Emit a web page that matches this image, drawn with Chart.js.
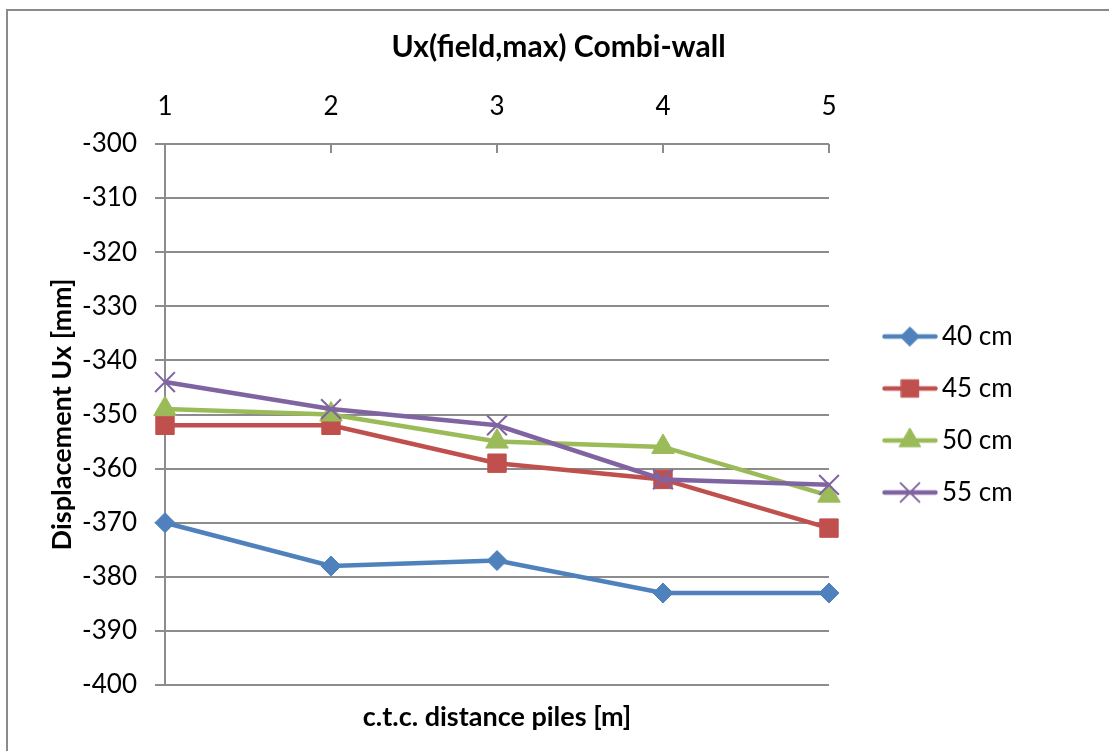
<!DOCTYPE html>
<html>
<head>
<meta charset="utf-8">
<style>
  html, body { margin: 0; padding: 0; background: #ffffff; }
  #wrap { width: 1109px; height: 751px; }
</style>
<script src="https://cdn.jsdelivr.net/npm/chart.js@4/dist/chart.umd.min.js"></script>
</head>
<body>
<div id="wrap"><canvas id="chart" width="1109" height="751"></canvas></div>
<script>
// c.t.c. distance of the piles [m]
const distances = ['1', '2', '3', '4', '5'];

// Maximum horizontal field displacement Ux [mm] per wall thickness
const ux40 = [-370, -378, -377, -383, -383];
const ux45 = [-352, -352, -359, -362, -371];
const ux50 = [-349, -350, -355, -356, -365];
const ux55 = [-344, -349, -352, -362, -363];

const seriesNames = ['40 cm', '45 cm', '50 cm', '55 cm'];
const seriesData = [ux40, ux45, ux50, ux55];

// Value axis range
const yMin = -400;
const yMax = -300;
const yStep = 10;

const FONT = 'Lato, "Open Sans", "DejaVu Sans", sans-serif';
const GRID = '#8c8c8c';

const styles = [
  { color: '#4F81BD', point: 'rectRot',  radius: 10, border: 1 },
  { color: '#C0504D', point: 'rect',     radius: 13, border: 1 },
  { color: '#9BBB59', point: 'triangle', radius: 13, border: 1 },
  { color: '#8064A2', point: 'crossRot', radius: 14, border: 2 }
];

// Small legend swatch: line segment with the series marker in its middle
function legendIcon(st) {
  const c = document.createElement('canvas');
  c.width = 92; c.height = 26;
  const g = c.getContext('2d');
  g.strokeStyle = st.color;
  g.fillStyle = st.color;
  g.lineWidth = 4.5;
  g.lineCap = 'round';
  g.beginPath();
  g.moveTo(38.5, 13);
  g.lineTo(89.5, 13);
  g.stroke();
  g.lineWidth = st.border;
  Chart.helpers.drawPoint(g, { pointStyle: st.point, radius: st.radius * 0.95, rotation: 0, borderWidth: st.border }, 64, 13);
  return c;
}
const icons = styles.map(legendIcon);

// Outer frame of the chart
const framePlugin = {
  id: 'frame',
  beforeDraw(chart) {
    const ctx = chart.ctx;
    ctx.save();
    ctx.fillStyle = '#ffffff';
    ctx.fillRect(0, 0, chart.width, chart.height);
    ctx.strokeStyle = '#8a8a8a';
    ctx.lineWidth = 2;
    ctx.strokeRect(7, 10, chart.width + 20, chart.height + 20);
    ctx.restore();
  }
};

// Category tick marks pointing down into the plot from the top axis
const innerTicksPlugin = {
  id: 'innerTicks',
  beforeDatasetsDraw(chart) {
    const x = chart.scales.x;
    const top = chart.chartArea.top;
    const ctx = chart.ctx;
    ctx.save();
    ctx.strokeStyle = GRID;
    ctx.lineWidth = 2;
    x.ticks.forEach((t, i) => {
      const px = Math.round(x.getPixelForTick(i));
      ctx.beginPath();
      ctx.moveTo(px, top);
      ctx.lineTo(px, top + 9);
      ctx.stroke();
    });
    ctx.restore();
  }
};

const datasets = seriesData.map((vals, i) => ({
  label: seriesNames[i],
  data: vals,
  xAxisID: 'x',
  yAxisID: 'y',
  borderColor: styles[i].color,
  backgroundColor: styles[i].color,
  borderWidth: 4.5,
  pointStyle: styles[i].point,
  pointRadius: styles[i].radius,
  pointBorderWidth: styles[i].border,
  pointBackgroundColor: styles[i].color,
  pointBorderColor: styles[i].color,
  tension: 0,
  clip: false,
  order: seriesData.length - i
}));

// Total width reserved right of the plot (legend plus margin)
const RIGHT_BAND = 280;

new Chart(document.getElementById('chart'), {
  type: 'line',
  data: { labels: distances, datasets },
  plugins: [framePlugin, innerTicksPlugin],
  options: {
    responsive: false,
    animation: false,
    events: [],
    layout: { padding: { left: 8, top: 0, bottom: 0, right: 0 } },
    plugins: {
      tooltip: { enabled: false },
      title: {
        display: true,
        text: 'Ux(field,max) Combi-wall',
        color: '#000000',
        font: { family: FONT, size: 30, weight: 'bold', lineHeight: 1.2 },
        padding: { top: 29, bottom: 0 }
      },
      legend: {
        display: true,
        position: 'right',
        align: 'center',
        fullSize: false,
        labels: {
          usePointStyle: true,
          pointStyleWidth: 74,
          padding: 26,
          color: '#000000',
          font: { family: FONT, size: 26 },
          generateLabels(chart) {
            return chart.data.datasets.map((ds, i) => ({
              text: ds.label,
              fillStyle: ds.borderColor,
              strokeStyle: ds.borderColor,
              lineWidth: 0,
              pointStyle: icons[i],
              hidden: false,
              datasetIndex: i,
              fontColor: '#000000'
            }));
          }
        }
      }
    },
    scales: {
      x: {
        type: 'category',
        position: 'top',
        offset: false,
        grid: { display: false, drawTicks: false },
        border: { display: false },
        ticks: {
          color: '#000000',
          font: { family: FONT, size: 26, lineHeight: 1.2 },
          padding: 22,
          maxRotation: 0,
          autoSkip: false
        },
        afterFit(scale) { scale.height = 79; }
      },
      x2: {
        type: 'category',
        position: 'bottom',
        offset: false,
        grid: { display: false, drawTicks: false },
        border: { display: false },
        ticks: { display: false },
        title: {
          display: true,
          text: 'c.t.c. distance piles [m]',
          color: '#000000',
          font: { family: FONT, size: 27, weight: 'bold', lineHeight: 1.2 },
          padding: { top: 0, bottom: 18 }
        },
        afterFit(scale) { scale.height = 66; }
      },
      y: {
        type: 'linear',
        position: 'left',
        min: yMin,
        max: yMax,
        grid: { color: GRID, lineWidth: 2, tickLength: 10, drawTicks: true },
        border: { display: true, color: GRID, width: 2 },
        ticks: {
          stepSize: yStep,
          color: '#000000',
          font: { family: FONT, size: 26 },
          padding: 18
        },
        title: {
          display: true,
          text: 'Displacement Ux [mm]',
          color: '#000000',
          font: { family: FONT, size: 27, weight: 'bold', lineHeight: 1.2 },
          padding: { top: 38, bottom: 0 }
        },
        afterFit(scale) { scale.width = 157; }
      },
      // empty margin band to the right of the legend
      margin: {
        type: 'linear',
        position: 'right',
        weight: 2000,
        grid: { display: false, drawTicks: false },
        border: { display: false },
        ticks: { display: false },
        afterFit(scale) {
          const lg = scale.chart.legend;
          scale.width = Math.max(0, RIGHT_BAND - (lg ? lg.width : 0));
        }
      }
    }
  }
});
</script>
</body>
</html>
